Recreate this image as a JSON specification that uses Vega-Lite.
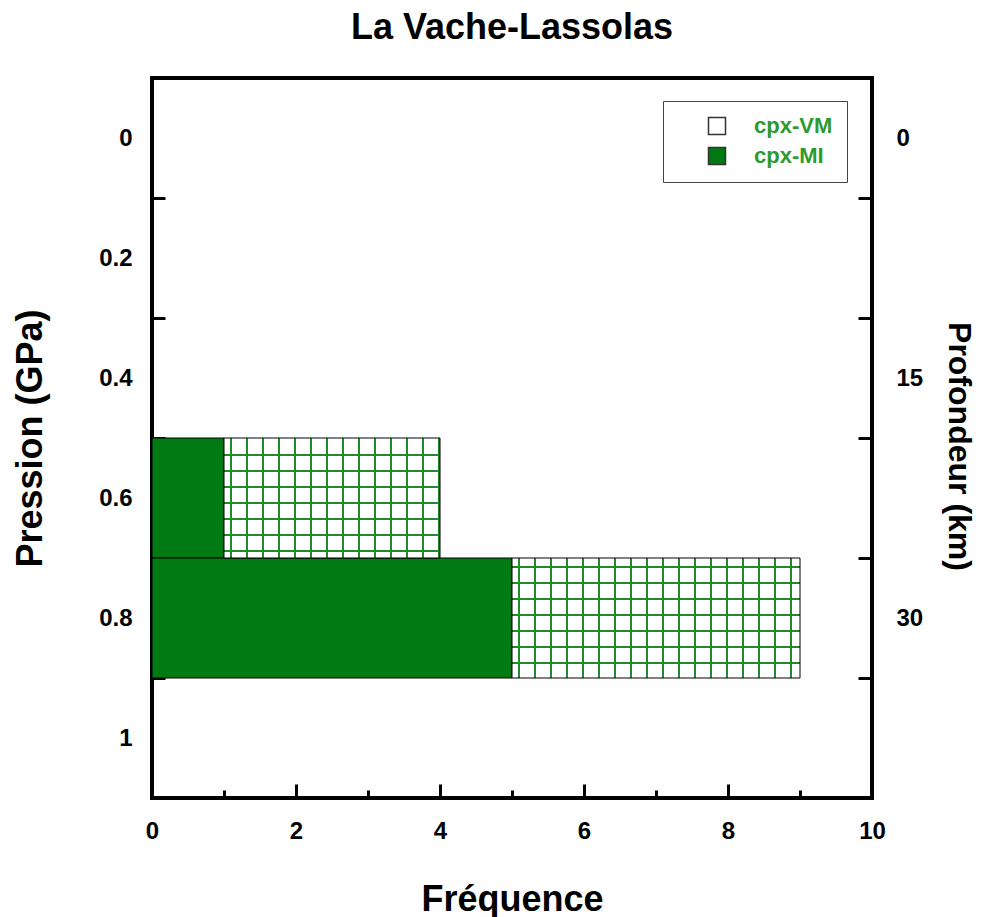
{
  "$schema": "https://vega.github.io/schema/vega-lite/v6.json",
  "width": 720,
  "height": 720,
  "autosize": "none",
  "padding": {"left": 152, "top": 78, "right": 118, "bottom": 119},
  "background": "white",
  "title": {"text": "La Vache-Lassolas", "font": "Liberation Sans", "fontSize": 36, "fontWeight": "bold", "color": "black", "anchor": "middle", "frame": "group", "baseline": "alphabetic", "offset": 3},
  "data": {"values": [
    {"classe": 0.6, "p_min": 0.5, "p_max": 0.7, "type": "cpx-MI", "x0": 0, "x1": 1},
    {"classe": 0.6, "p_min": 0.5, "p_max": 0.7, "type": "cpx-VM", "x0": 1, "x1": 4},
    {"classe": 0.8, "p_min": 0.7, "p_max": 0.9, "type": "cpx-MI", "x0": 0, "x1": 5},
    {"classe": 0.8, "p_min": 0.7, "p_max": 0.9, "type": "cpx-VM", "x0": 5, "x1": 9}
  ]},
  "encoding": {
    "x": {"field": "x0", "type": "quantitative", "scale": {"domain": [0, 10], "nice": false, "zero": false},
      "axis": {"values": [0,1,2,3,4,5,6,7,8,9,10], "labelExpr": "datum.value % 2 == 0 ? datum.label : ''", "grid": false, "domain": false, "labelFlush": false,
        "tickSize": {"condition": {"test": "datum.value % 2 == 0", "value": -14}, "value": -8},
        "tickWidth": 3, "tickColor": "black", "labelPadding": 35, "labelFont": "Liberation Sans", "labelFontSize": 24, "labelFontWeight": "bold", "labelColor": "black",
        "title": "Fréquence", "titleFont": "Liberation Sans", "titleFontSize": 36, "titleFontWeight": "bold", "titleColor": "black", "titleX": 360, "titleY": 112, "titleBaseline": "alphabetic", "titleAlign": "center", "titleAnchor": null}},
    "x2": {"field": "x1"}
  },
  "layer": [
    {
      "encoding": {
        "y": {"field": "p_min", "type": "quantitative", "scale": {"domain": [-0.1, 1.1], "reverse": true, "nice": false, "zero": false},
          "axis": {"orient": "left", "values": [0, 0.2, 0.4, 0.6, 0.8, 1], "format": "~g", "tickOffset": 60, "labelOffset": -60, "grid": false, "domain": false, "labelFlush": false,
            "tickSize": -13, "tickWidth": 3, "tickColor": "black", "labelPadding": 33, "labelFont": "Liberation Sans", "labelFontSize": 24, "labelFontWeight": "bold", "labelColor": "black",
            "title": "Pression (GPa)", "titleFont": "Liberation Sans", "titleFontSize": 36, "titleFontWeight": "bold", "titleColor": "black", "titleX": -122, "titleY": 360, "titleAngle": -90, "titleBaseline": "middle", "titleAlign": "center"}},
        "y2": {"field": "p_max"}
      },
      "layer": [
        {
          "transform": [{"filter": "datum.type == 'cpx-MI'"}],
          "mark": {"type": "rect", "stroke": "black", "strokeWidth": 1},
          "encoding": {
            "fill": {"field": "type", "type": "nominal", "scale": {"domain": ["cpx-VM", "cpx-MI"], "range": ["white", "#027A14"]},
              "legend": {"title": null, "orient": "none", "legendX": 511, "legendY": 23, "symbolType": "square", "symbolSize": 289, "symbolStrokeColor": "#333", "symbolStrokeWidth": 1.5,
                "labelFont": "Liberation Sans", "labelFontSize": 22, "labelFontWeight": "bold", "labelColor": "#2E9A2E", "strokeColor": "#444", "fillColor": "white",
                "padding": 14, "symbolOffset": 29, "labelOffset": 26, "rowPadding": 6}}
          }
        },
        {
          "transform": [{"filter": "datum.type == 'cpx-VM' && datum.classe == 0.6"}],
          "mark": {"type": "rect", "fill": {"gradient": "linear", "x1": 0, "y1": 0, "x2": 1, "y2": 0, "stops": [
            {"offset": 0, "color": "white"},
            {"offset": 0.02778, "color": "white"}, {"offset": 0.02778, "color": "#1e8c28"}, {"offset": 0.03704, "color": "#1e8c28"}, {"offset": 0.03704, "color": "white"},
            {"offset": 0.10185, "color": "white"}, {"offset": 0.10185, "color": "#1e8c28"}, {"offset": 0.11111, "color": "#1e8c28"}, {"offset": 0.11111, "color": "white"},
            {"offset": 0.17593, "color": "white"}, {"offset": 0.17593, "color": "#1e8c28"}, {"offset": 0.18519, "color": "#1e8c28"}, {"offset": 0.18519, "color": "white"},
            {"offset": 0.25, "color": "white"}, {"offset": 0.25, "color": "#1e8c28"}, {"offset": 0.25926, "color": "#1e8c28"}, {"offset": 0.25926, "color": "white"},
            {"offset": 0.32407, "color": "white"}, {"offset": 0.32407, "color": "#1e8c28"}, {"offset": 0.33333, "color": "#1e8c28"}, {"offset": 0.33333, "color": "white"},
            {"offset": 0.39815, "color": "white"}, {"offset": 0.39815, "color": "#1e8c28"}, {"offset": 0.40741, "color": "#1e8c28"}, {"offset": 0.40741, "color": "white"},
            {"offset": 0.47222, "color": "white"}, {"offset": 0.47222, "color": "#1e8c28"}, {"offset": 0.48148, "color": "#1e8c28"}, {"offset": 0.48148, "color": "white"},
            {"offset": 0.5463, "color": "white"}, {"offset": 0.5463, "color": "#1e8c28"}, {"offset": 0.55556, "color": "#1e8c28"}, {"offset": 0.55556, "color": "white"},
            {"offset": 0.62037, "color": "white"}, {"offset": 0.62037, "color": "#1e8c28"}, {"offset": 0.62963, "color": "#1e8c28"}, {"offset": 0.62963, "color": "white"},
            {"offset": 0.69444, "color": "white"}, {"offset": 0.69444, "color": "#1e8c28"}, {"offset": 0.7037, "color": "#1e8c28"}, {"offset": 0.7037, "color": "white"},
            {"offset": 0.76852, "color": "white"}, {"offset": 0.76852, "color": "#1e8c28"}, {"offset": 0.77778, "color": "#1e8c28"}, {"offset": 0.77778, "color": "white"},
            {"offset": 0.84259, "color": "white"}, {"offset": 0.84259, "color": "#1e8c28"}, {"offset": 0.85185, "color": "#1e8c28"}, {"offset": 0.85185, "color": "white"},
            {"offset": 0.91667, "color": "white"}, {"offset": 0.91667, "color": "#1e8c28"}, {"offset": 0.92593, "color": "#1e8c28"}, {"offset": 0.92593, "color": "white"},
            {"offset": 0.99074, "color": "white"}, {"offset": 0.99074, "color": "#1e8c28"}, {"offset": 1, "color": "#1e8c28"}
          ]}}
        },
        {
          "transform": [{"filter": "datum.type == 'cpx-VM' && datum.classe == 0.6"}],
          "mark": {"type": "rect", "stroke": "black", "strokeWidth": 1, "fill": {"gradient": "linear", "x1": 0, "y1": 0, "x2": 0, "y2": 1, "stops": [
            {"offset": 0, "color": "rgba(255,255,255,0)"},
            {"offset": 0.13333, "color": "rgba(255,255,255,0)"}, {"offset": 0.13333, "color": "#1e8c28"}, {"offset": 0.15, "color": "#1e8c28"}, {"offset": 0.15, "color": "rgba(255,255,255,0)"},
            {"offset": 0.26667, "color": "rgba(255,255,255,0)"}, {"offset": 0.26667, "color": "#1e8c28"}, {"offset": 0.28333, "color": "#1e8c28"}, {"offset": 0.28333, "color": "rgba(255,255,255,0)"},
            {"offset": 0.4, "color": "rgba(255,255,255,0)"}, {"offset": 0.4, "color": "#1e8c28"}, {"offset": 0.41667, "color": "#1e8c28"}, {"offset": 0.41667, "color": "rgba(255,255,255,0)"},
            {"offset": 0.53333, "color": "rgba(255,255,255,0)"}, {"offset": 0.53333, "color": "#1e8c28"}, {"offset": 0.55, "color": "#1e8c28"}, {"offset": 0.55, "color": "rgba(255,255,255,0)"},
            {"offset": 0.66667, "color": "rgba(255,255,255,0)"}, {"offset": 0.66667, "color": "#1e8c28"}, {"offset": 0.68333, "color": "#1e8c28"}, {"offset": 0.68333, "color": "rgba(255,255,255,0)"},
            {"offset": 0.8, "color": "rgba(255,255,255,0)"}, {"offset": 0.8, "color": "#1e8c28"}, {"offset": 0.81667, "color": "#1e8c28"}, {"offset": 0.81667, "color": "rgba(255,255,255,0)"},
            {"offset": 0.93333, "color": "rgba(255,255,255,0)"}, {"offset": 0.93333, "color": "#1e8c28"}, {"offset": 0.95, "color": "#1e8c28"}, {"offset": 0.95, "color": "rgba(255,255,255,0)"},
            {"offset": 1, "color": "rgba(255,255,255,0)"}
          ]}}
        },
        {
          "transform": [{"filter": "datum.type == 'cpx-VM' && datum.classe == 0.8"}],
          "mark": {"type": "rect", "fill": {"gradient": "linear", "x1": 0, "y1": 0, "x2": 1, "y2": 0, "stops": [
            {"offset": 0, "color": "white"},
            {"offset": 0.020833, "color": "white"}, {"offset": 0.020833, "color": "#1e8c28"}, {"offset": 0.027778, "color": "#1e8c28"}, {"offset": 0.027778, "color": "white"},
            {"offset": 0.076389, "color": "white"}, {"offset": 0.076389, "color": "#1e8c28"}, {"offset": 0.083333, "color": "#1e8c28"}, {"offset": 0.083333, "color": "white"},
            {"offset": 0.131944, "color": "white"}, {"offset": 0.131944, "color": "#1e8c28"}, {"offset": 0.138889, "color": "#1e8c28"}, {"offset": 0.138889, "color": "white"},
            {"offset": 0.1875, "color": "white"}, {"offset": 0.1875, "color": "#1e8c28"}, {"offset": 0.194444, "color": "#1e8c28"}, {"offset": 0.194444, "color": "white"},
            {"offset": 0.243056, "color": "white"}, {"offset": 0.243056, "color": "#1e8c28"}, {"offset": 0.25, "color": "#1e8c28"}, {"offset": 0.25, "color": "white"},
            {"offset": 0.298611, "color": "white"}, {"offset": 0.298611, "color": "#1e8c28"}, {"offset": 0.305556, "color": "#1e8c28"}, {"offset": 0.305556, "color": "white"},
            {"offset": 0.354167, "color": "white"}, {"offset": 0.354167, "color": "#1e8c28"}, {"offset": 0.361111, "color": "#1e8c28"}, {"offset": 0.361111, "color": "white"},
            {"offset": 0.409722, "color": "white"}, {"offset": 0.409722, "color": "#1e8c28"}, {"offset": 0.416667, "color": "#1e8c28"}, {"offset": 0.416667, "color": "white"},
            {"offset": 0.465278, "color": "white"}, {"offset": 0.465278, "color": "#1e8c28"}, {"offset": 0.472222, "color": "#1e8c28"}, {"offset": 0.472222, "color": "white"},
            {"offset": 0.520833, "color": "white"}, {"offset": 0.520833, "color": "#1e8c28"}, {"offset": 0.527778, "color": "#1e8c28"}, {"offset": 0.527778, "color": "white"},
            {"offset": 0.576389, "color": "white"}, {"offset": 0.576389, "color": "#1e8c28"}, {"offset": 0.583333, "color": "#1e8c28"}, {"offset": 0.583333, "color": "white"},
            {"offset": 0.631944, "color": "white"}, {"offset": 0.631944, "color": "#1e8c28"}, {"offset": 0.638889, "color": "#1e8c28"}, {"offset": 0.638889, "color": "white"},
            {"offset": 0.6875, "color": "white"}, {"offset": 0.6875, "color": "#1e8c28"}, {"offset": 0.694444, "color": "#1e8c28"}, {"offset": 0.694444, "color": "white"},
            {"offset": 0.743056, "color": "white"}, {"offset": 0.743056, "color": "#1e8c28"}, {"offset": 0.75, "color": "#1e8c28"}, {"offset": 0.75, "color": "white"},
            {"offset": 0.798611, "color": "white"}, {"offset": 0.798611, "color": "#1e8c28"}, {"offset": 0.805556, "color": "#1e8c28"}, {"offset": 0.805556, "color": "white"},
            {"offset": 0.854167, "color": "white"}, {"offset": 0.854167, "color": "#1e8c28"}, {"offset": 0.861111, "color": "#1e8c28"}, {"offset": 0.861111, "color": "white"},
            {"offset": 0.909722, "color": "white"}, {"offset": 0.909722, "color": "#1e8c28"}, {"offset": 0.916667, "color": "#1e8c28"}, {"offset": 0.916667, "color": "white"},
            {"offset": 0.965278, "color": "white"}, {"offset": 0.965278, "color": "#1e8c28"}, {"offset": 0.972222, "color": "#1e8c28"}, {"offset": 0.972222, "color": "white"},
            {"offset": 1, "color": "white"}
          ]}}
        },
        {
          "transform": [{"filter": "datum.type == 'cpx-VM' && datum.classe == 0.8"}],
          "mark": {"type": "rect", "stroke": "black", "strokeWidth": 1, "fill": {"gradient": "linear", "x1": 0, "y1": 0, "x2": 0, "y2": 1, "stops": [
            {"offset": 0, "color": "rgba(255,255,255,0)"},
            {"offset": 0.066667, "color": "rgba(255,255,255,0)"}, {"offset": 0.066667, "color": "#1e8c28"}, {"offset": 0.083333, "color": "#1e8c28"}, {"offset": 0.083333, "color": "rgba(255,255,255,0)"},
            {"offset": 0.2, "color": "rgba(255,255,255,0)"}, {"offset": 0.2, "color": "#1e8c28"}, {"offset": 0.216667, "color": "#1e8c28"}, {"offset": 0.216667, "color": "rgba(255,255,255,0)"},
            {"offset": 0.333333, "color": "rgba(255,255,255,0)"}, {"offset": 0.333333, "color": "#1e8c28"}, {"offset": 0.35, "color": "#1e8c28"}, {"offset": 0.35, "color": "rgba(255,255,255,0)"},
            {"offset": 0.466667, "color": "rgba(255,255,255,0)"}, {"offset": 0.466667, "color": "#1e8c28"}, {"offset": 0.483333, "color": "#1e8c28"}, {"offset": 0.483333, "color": "rgba(255,255,255,0)"},
            {"offset": 0.6, "color": "rgba(255,255,255,0)"}, {"offset": 0.6, "color": "#1e8c28"}, {"offset": 0.616667, "color": "#1e8c28"}, {"offset": 0.616667, "color": "rgba(255,255,255,0)"},
            {"offset": 0.733333, "color": "rgba(255,255,255,0)"}, {"offset": 0.733333, "color": "#1e8c28"}, {"offset": 0.75, "color": "#1e8c28"}, {"offset": 0.75, "color": "rgba(255,255,255,0)"},
            {"offset": 0.866667, "color": "rgba(255,255,255,0)"}, {"offset": 0.866667, "color": "#1e8c28"}, {"offset": 0.883333, "color": "#1e8c28"}, {"offset": 0.883333, "color": "rgba(255,255,255,0)"},
            {"offset": 1, "color": "rgba(255,255,255,0)"}
          ]}}
        }
      ]
    },
    {
      "mark": {"type": "rect", "opacity": 0},
      "encoding": {
        "y": {"field": "p_min", "type": "quantitative", "scale": {"domain": [-0.1, 1.1], "reverse": true, "nice": false, "zero": false},
          "axis": {"orient": "right", "values": [0, 0.2, 0.4, 0.6, 0.8, 1], "tickOffset": 60, "labelOffset": -60, "grid": false, "domain": false, "labelFlush": false,
            "labelExpr": "datum.value == 0 ? '0' : abs(datum.value - 0.4) < 0.01 ? '15' : abs(datum.value - 0.8) < 0.01 ? '30' : ''",
            "tickSize": -14, "tickWidth": 3, "tickColor": "black", "labelPadding": 38, "labelAlign": "left", "labelFont": "Liberation Sans", "labelFontSize": 24, "labelFontWeight": "bold", "labelColor": "black",
            "title": "Profondeur (km)", "titleFont": "Liberation Sans", "titleFontSize": 32, "titleFontWeight": "bold", "titleColor": "black", "titleX": 86, "titleY": 368, "titleAngle": 90, "titleBaseline": "middle", "titleAlign": "center"}},
        "y2": {"field": "p_max"}
      }
    }
  ],
  "resolve": {"scale": {"y": "independent"}, "axis": {"y": "independent"}},
  "config": {
    "view": {"stroke": "black", "strokeWidth": 4},
    "font": "Liberation Sans"
  }
}
